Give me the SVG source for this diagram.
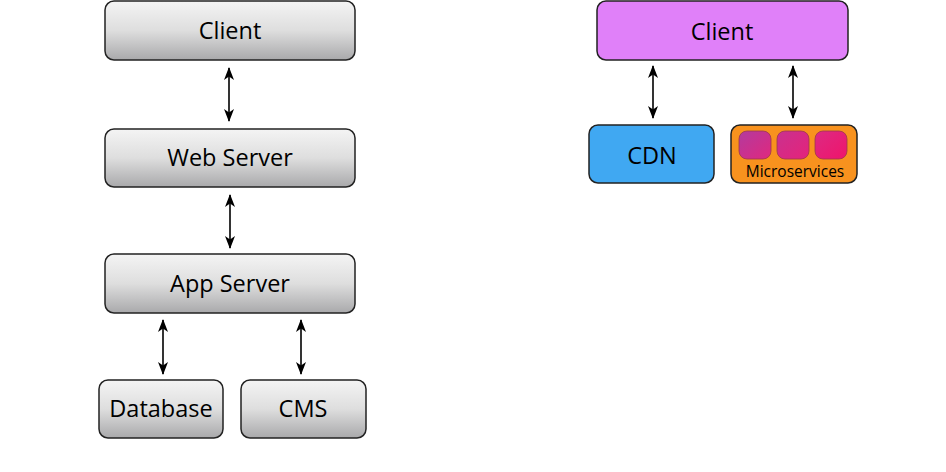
<svg xmlns="http://www.w3.org/2000/svg" width="946" height="472" viewBox="0 0 946 472">
<defs>
<linearGradient id="gray" x1="0" y1="0" x2="0" y2="1">
<stop offset="0" stop-color="#f4f4f4"/>
<stop offset="0.5" stop-color="#dedede"/>
<stop offset="1" stop-color="#a9a9ab"/>
</linearGradient>
<linearGradient id="ms" x1="0" y1="0" x2="1" y2="1">
<stop offset="0" stop-color="#b33a9e"/>
<stop offset="1" stop-color="#e0287e"/>
</linearGradient>
<linearGradient id="ms2" x1="0" y1="0" x2="1" y2="1">
<stop offset="0" stop-color="#c9318f"/>
<stop offset="1" stop-color="#e5237a"/>
</linearGradient>
<linearGradient id="ms3" x1="0" y1="0" x2="1" y2="1">
<stop offset="0" stop-color="#dc2a84"/>
<stop offset="1" stop-color="#f0146a"/>
</linearGradient>
<marker id="ah" viewBox="0 0 13 10" refX="12" refY="5" markerWidth="13" markerHeight="10" markerUnits="userSpaceOnUse" orient="auto-start-reverse">
<path d="M0,0 L13,5 L0,10 L3.5,5 Z" fill="#000"/>
</marker>
<style>
.box{stroke:#222;stroke-width:1.5}
.g{fill:url(#gray)}
.t{font-family:"Myriad Pro","Open Sans","Liberation Sans",sans-serif;font-size:23.5px;fill:#000;text-anchor:middle}
.c{stroke:#000;stroke-width:1.6;fill:none;marker-start:url(#ah);marker-end:url(#ah)}
</style>
</defs>
<g id="client-left"><rect class="box g" x="105" y="1" width="250" height="59" rx="9"/><text class="t" x="230" y="39">Client</text></g>
<g id="web-server"><rect class="box g" x="105" y="129" width="250" height="58" rx="9"/><text class="t" x="230" y="166">Web Server</text></g>
<g id="app-server"><rect class="box g" x="105" y="254" width="250" height="59" rx="9"/><text class="t" x="230" y="292">App Server</text></g>
<g id="database"><rect class="box g" x="99" y="380" width="124" height="58" rx="9"/><text class="t" x="161" y="417">Database</text></g>
<g id="cms"><rect class="box g" x="241" y="380" width="125" height="58" rx="9"/><text class="t" x="303" y="417">CMS</text></g>
<g id="client-right"><rect class="box" x="597" y="1" width="251" height="59" rx="9" fill="#e080f9"/><text class="t" x="722" y="40">Client</text></g>
<g id="cdn"><rect class="box" x="589" y="125" width="125" height="58" rx="9" fill="#40a8f2"/><text class="t" x="652" y="164">CDN</text></g>
<g id="microservices"><rect class="box" x="731" y="125" width="126" height="58" rx="9" fill="#f8921e"/>
<rect x="739" y="131" width="32" height="28" rx="8" fill="url(#ms)" stroke="#9a3a4a" stroke-width="0.8"/>
<rect x="777" y="131" width="32" height="28" rx="8" fill="url(#ms2)" stroke="#9a3a4a" stroke-width="0.8"/>
<rect x="815" y="131" width="32" height="28" rx="8" fill="url(#ms3)" stroke="#9a3a4a" stroke-width="0.8"/>
<text class="t" x="795" y="177" style="font-size:15.5px">Microservices</text></g>
<g id="connectors">
<line class="c" x1="229" y1="68" x2="229" y2="121"/>
<line class="c" x1="230" y1="195" x2="230" y2="248"/>
<line class="c" x1="163" y1="320" x2="163" y2="374"/>
<line class="c" x1="301" y1="320" x2="301" y2="374"/>
<line class="c" x1="653" y1="66" x2="653" y2="118"/>
<line class="c" x1="793" y1="66" x2="793" y2="118"/>
</g>
</svg>
